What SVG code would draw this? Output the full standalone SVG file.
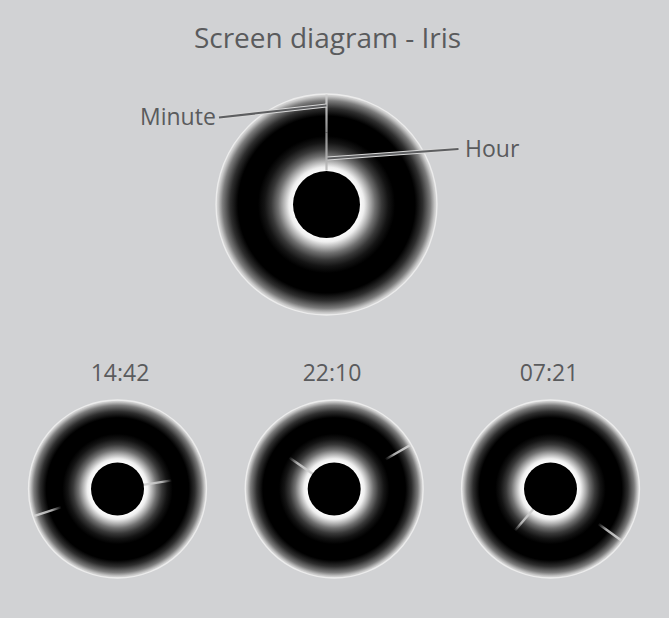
<svg xmlns="http://www.w3.org/2000/svg" width="669" height="618" viewBox="0 0 669 618">
  <style>
    .txt { font-family: "Open Sans", "Noto Sans", "Liberation Sans", sans-serif; fill: #5a5b5d; }
    .title { font-size: 28px; }
    .lbl { font-size: 23px; }
    .rim { stroke: #ececec; stroke-width: 1.3; }
    .pupil { fill: #000; }
    .leader-bg { stroke: #d8d8d8; stroke-width: 4; stroke-linecap: butt; fill: none; }
    .leader { stroke: #5d5e60; stroke-width: 2; stroke-linecap: butt; fill: none; }
  </style>
  <defs>
    <radialGradient id="iris" cx="0.5" cy="0.5" r="0.5">
      <stop offset="0" stop-color="#000"/>
      <stop offset="0.295" stop-color="#fff"/>
      <stop offset="0.34" stop-color="#eeeeee"/>
      <stop offset="0.39" stop-color="#b0b0b0"/>
      <stop offset="0.44" stop-color="#707070"/>
      <stop offset="0.50" stop-color="#383838"/>
      <stop offset="0.56" stop-color="#141414"/>
      <stop offset="0.62" stop-color="#000"/>
      <stop offset="0.80" stop-color="#000"/>
      <stop offset="0.87" stop-color="#2e2e2e"/>
      <stop offset="0.94" stop-color="#7c7c7c"/>
      <stop offset="0.98" stop-color="#c8c8c8"/>
      <stop offset="1" stop-color="#e0e0e0"/>
    </radialGradient>
    <linearGradient id="hourGrad" x1="0" y1="0" x2="0" y2="1">
      <stop offset="0" stop-color="#c8c8c8" stop-opacity="0"/>
      <stop offset="0.35" stop-color="#c8c8c8" stop-opacity="0.85"/>
      <stop offset="1" stop-color="#d0d0d0" stop-opacity="1"/>
    </linearGradient>
    <linearGradient id="minGrad" x1="0" y1="0" x2="0" y2="1">
      <stop offset="0" stop-color="#d0d0d0" stop-opacity="1"/>
      <stop offset="0.65" stop-color="#c8c8c8" stop-opacity="0.85"/>
      <stop offset="1" stop-color="#c8c8c8" stop-opacity="0"/>
    </linearGradient>
    <linearGradient id="hourGradTop" x1="0" y1="0" x2="0" y2="1">
      <stop offset="0" stop-color="#8a8a8a"/>
      <stop offset="1" stop-color="#c0c0c0"/>
    </linearGradient>
    <linearGradient id="minGradTop" x1="0" y1="0" x2="0" y2="1">
      <stop offset="0" stop-color="#d0d0d0"/>
      <stop offset="1" stop-color="#8a8a8a"/>
    </linearGradient>
  </defs>

  <rect x="0" y="0" width="669" height="618" fill="#d1d2d4"/>

  <text class="txt title" x="327.5" y="48" text-anchor="middle">Screen diagram - Iris</text>

  <!-- Main clock -->
  <g id="clock-main" transform="translate(326.5 204.5)">
    <circle r="110.5" fill="url(#iris)" class="rim"/>
    <rect x="-1.1" y="-72" width="2.2" height="38" fill="url(#hourGradTop)"/>
    <rect x="-1.1" y="-110" width="2.2" height="38" fill="url(#minGradTop)"/>
    <circle r="33.5" class="pupil"/>
  </g>

  <!-- Small clocks -->
  <g id="clock-1442" transform="translate(117.5 489)">
    <circle r="89" fill="url(#iris)" class="rim"/>
    <g transform="rotate(81)"><rect x="-1.2" y="-55" width="2.4" height="29" fill="url(#hourGrad)"/></g>
    <g transform="rotate(252)"><rect x="-1.2" y="-88" width="2.4" height="29" fill="url(#minGrad)"/></g>
    <circle r="26.5" class="pupil"/>
  </g>
  <g id="clock-2210" transform="translate(334.2 489)">
    <circle r="89" fill="url(#iris)" class="rim"/>
    <g transform="rotate(305)"><rect x="-1.2" y="-55" width="2.4" height="29" fill="url(#hourGrad)"/></g>
    <g transform="rotate(60)"><rect x="-1.2" y="-88" width="2.4" height="29" fill="url(#minGrad)"/></g>
    <circle r="26.5" class="pupil"/>
  </g>
  <g id="clock-0721" transform="translate(550.5 489)">
    <circle r="89" fill="url(#iris)" class="rim"/>
    <g transform="rotate(220.5)"><rect x="-1.2" y="-55" width="2.4" height="29" fill="url(#hourGrad)"/></g>
    <g transform="rotate(126)"><rect x="-1.2" y="-88" width="2.4" height="29" fill="url(#minGrad)"/></g>
    <circle r="26.5" class="pupil"/>
  </g>

  <!-- Connectors (leader lines) -->
  <g id="connectors">
    <line class="leader-bg" x1="219" y1="117.5" x2="326.5" y2="105.5"/>
    <line class="leader" x1="219" y1="117.5" x2="326.5" y2="105.5"/>
    <line class="leader-bg" x1="458.5" y1="149" x2="327.5" y2="158.5"/>
    <line class="leader" x1="458.5" y1="149" x2="327.5" y2="158.5"/>
  </g>

  <g id="label-minute"><text class="txt lbl" x="140" y="125">Minute</text></g>
  <g id="label-hour"><text class="txt lbl" x="465" y="157">Hour</text></g>

  <g id="time-labels">
    <text class="txt lbl" x="120" y="381" text-anchor="middle">14:42</text>
    <text class="txt lbl" x="332" y="381" text-anchor="middle">22:10</text>
    <text class="txt lbl" x="549" y="381" text-anchor="middle">07:21</text>
  </g>
</svg>
